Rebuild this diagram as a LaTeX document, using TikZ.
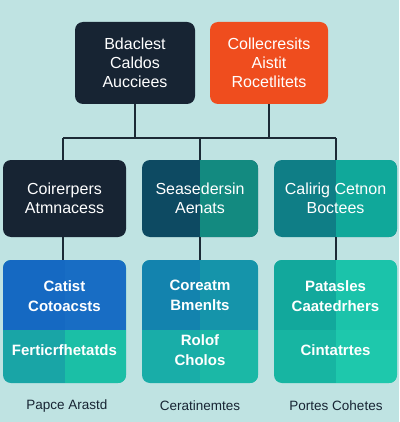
\documentclass[tikz,border=0pt]{standalone}
\usepackage{fontspec}
\setmainfont{Liberation Sans}
\usetikzlibrary{calc}

\definecolor{bgcol}{HTML}{BFE3E2}
\definecolor{navy}{HTML}{172433}
\definecolor{flame}{HTML}{EF4D1E}
\definecolor{linecol}{HTML}{1C2A35}
\definecolor{petrolL}{HTML}{0D4A62}
\definecolor{petrolR}{HTML}{138A80}
\definecolor{tealL}{HTML}{0F7E86}
\definecolor{tealR}{HTML}{10A89A}
\definecolor{blueTL}{HTML}{1569C2}
\definecolor{blueTR}{HTML}{186DC4}
\definecolor{blueBL}{HTML}{19A5A6}
\definecolor{blueBR}{HTML}{1BBFA6}
\definecolor{seaTL}{HTML}{1383AE}
\definecolor{seaTR}{HTML}{1594AA}
\definecolor{seaBL}{HTML}{19ADA8}
\definecolor{seaBR}{HTML}{1BB8A6}
\definecolor{mintTL}{HTML}{12A89C}
\definecolor{mintTR}{HTML}{1BC3AA}
\definecolor{mintBL}{HTML}{17B5A2}
\definecolor{mintBR}{HTML}{1EC8AC}

\begin{document}
\begin{tikzpicture}[x=1pt,y=-1pt,
    box/.style={rounded corners=8pt, inner sep=0pt, align=center, text=white,
        font=\fontsize{16}{19}\selectfont},
    twotone/.style 2 args={fill=#1, path picture={
        \fill[#2, sharp corners] (path picture bounding box.north) rectangle (path picture bounding box.south east);}},
    fourtone/.style n args={4}{fill=#3, path picture={
        \fill[#4, sharp corners] (path picture bounding box.south) rectangle ([yshift=-70pt]path picture bounding box.north east);
        \fill[#1, sharp corners] (path picture bounding box.north west) rectangle ([yshift=-70pt]path picture bounding box.north);
        \fill[#2, sharp corners] (path picture bounding box.north) rectangle ([yshift=-70pt]path picture bounding box.north east);}},
    intext/.style={align=center, text=white, font=\fontsize{15}{20}\selectfont\bfseries},
    caption/.style={text=navy, font=\fontsize{13.5}{16}\selectfont},
    link/.style={draw=linecol, line width=1.5pt}]

    \fill[bgcol] (0,0) rectangle (399,422);
    \useasboundingbox (0,0) rectangle (399,422);

    % top row
    \node[box, fill=navy, minimum width=120pt, minimum height=82pt] (A) at (135,63) {Bdaclest\\Caldos\\Aucciees};
    \node[box, fill=flame, minimum width=118pt, minimum height=82pt] (B) at (269,63) {Collecresits\\Aistit\\Rocetlitets};

    % middle row
    \node[box, fill=navy, minimum width=123pt, minimum height=77pt] (C) at (64.5,198.5) {Coirerpers\\Atmnacess};
    \node[box, twotone={petrolL}{petrolR}, minimum width=116pt, minimum height=77pt] (D) at (200,198.5) {Seasedersin\\Aenats};
    \node[box, twotone={tealL}{tealR}, minimum width=123pt, minimum height=77pt] (E) at (335.5,198.5) {Calirig Cetnon\\Boctees};

    % bottom row
    \node[box, fourtone={blueTL}{blueTR}{blueBL}{blueBR}, minimum width=123pt, minimum height=123pt] (F) at (64.5,321.5) {};
    \node[box, fourtone={seaTL}{seaTR}{seaBL}{seaBR}, minimum width=116pt, minimum height=123pt] (G) at (200,321.5) {};
    \node[box, fourtone={mintTL}{mintTR}{mintBL}{mintBR}, minimum width=123pt, minimum height=123pt] (H) at (335.5,321.5) {};

    \node[intext] (F1) at ([yshift=-36pt]F.north) {Catist\\Cotoacsts};
    \node[intext] (F2) at ([yshift=-90pt]F.north) {Ferticrfhetatds};
    \node[intext] (G1) at ([yshift=-36pt]G.north) {Coreatm\\Bmenlts};
    \node[intext] (G2) at ([yshift=-90pt]G.north) {Rolof\\Cholos};
    \node[intext] (H1) at ([yshift=-36pt]H.north) {Patasles\\Caatedrhers};
    \node[intext] (H2) at ([yshift=-90pt]H.north) {Cintatrtes};

    % captions
    \node[caption] (P) at (67,406) {Papce Arastd};
    \node[caption] (Q) at (200,406) {Ceratinemtes};
    \node[caption] (R) at (336,406) {Portes Cohetes};

    % connectors
    \coordinate (busL) at (63,138);
    \coordinate (busR) at (336,138);
    \coordinate (busM) at (200,138);
    \draw[link] (busL) -- (busR);
    \draw[link] (A) -- (A |- busL);
    \draw[link] (B) -- (B |- busL);
    \draw[link] (busL) -- (busL |- C.north);
    \draw[link] (busM) -- (D);
    \draw[link] (busR) -- (busR |- E.north);
    \draw[link] (C.south -| busL) -- (busL |- F.north);
    \draw[link] (D) -- (G);
    \draw[link] (E.south -| busR) -- (busR |- H.north);
\end{tikzpicture}
\end{document}
